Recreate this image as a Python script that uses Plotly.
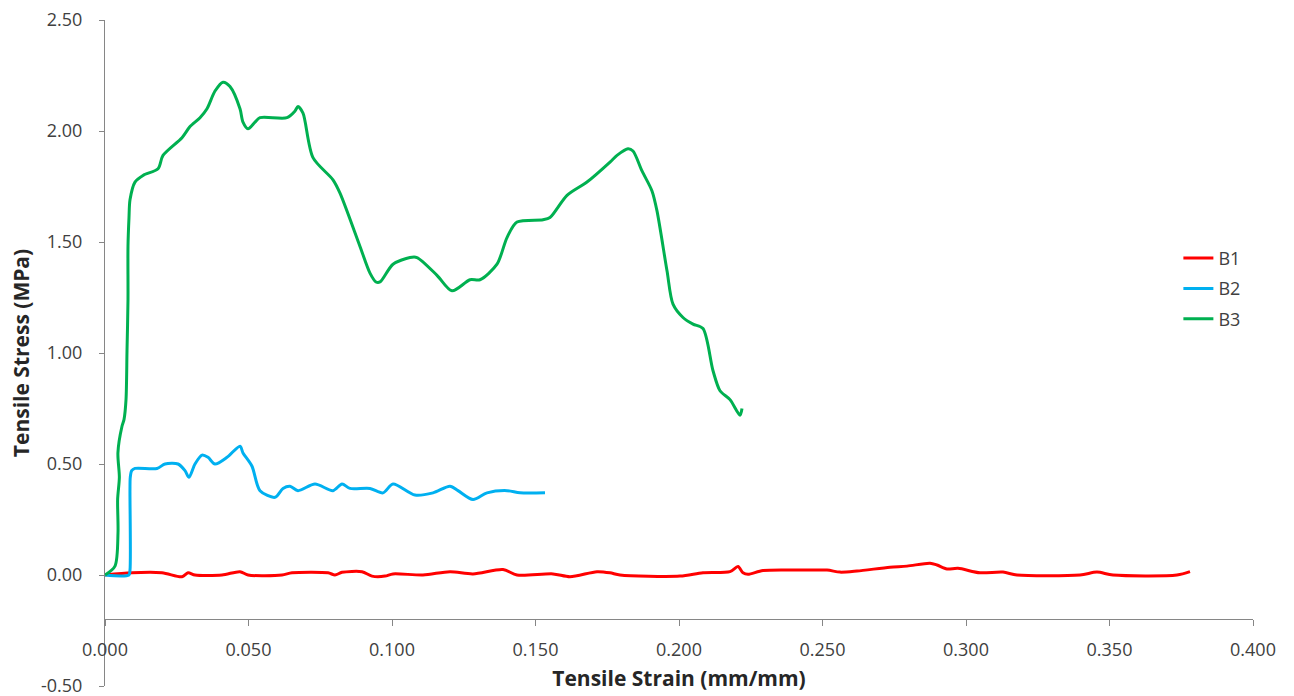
import plotly.graph_objects as go

# ---------------- data ----------------
b1_x = [0.0, 0.00941, 0.01986, 0.02683, 0.02892, 0.03136, 0.04077, 0.04704, 0.04983, 0.06167,
        0.06516, 0.07770, 0.08014, 0.08258, 0.08955, 0.09303, 0.09756, 0.10035, 0.11080, 0.12021,
        0.12822, 0.13868, 0.14355, 0.15610, 0.16202, 0.17143, 0.17596, 0.17944, 0.20035, 0.20836,
        0.21777, 0.22056, 0.22230, 0.22404, 0.22927, 0.24216, 0.25157, 0.25610, 0.26202, 0.27352,
        0.27944, 0.28746, 0.28990, 0.29338, 0.29721, 0.30488, 0.31289, 0.31777, 0.33972, 0.34564,
        0.35122, 0.37352, 0.37805]
b1_y = [0.0, 0.010, 0.010, -0.008, 0.010, 0.000, 0.000, 0.015, 0.000, 0.000,
        0.010, 0.010, 0.000, 0.012, 0.015, -0.005, -0.005, 0.005, 0.000, 0.015,
        0.005, 0.025, 0.000, 0.005, -0.008, 0.015, 0.010, 0.000, -0.005, 0.010,
        0.015, 0.038, 0.010, 0.003, 0.020, 0.022, 0.022, 0.013, 0.018, 0.035,
        0.040, 0.053, 0.045, 0.027, 0.030, 0.010, 0.013, 0.000, 0.000, 0.013,
        0.000, 0.000, 0.015]

b2_x = [0.0, 0.0083, 0.0087, 0.0087, 0.0088, 0.0093, 0.01045, 0.01812, 0.02091, 0.02544,
        0.02787, 0.02927, 0.03136, 0.03380, 0.03589, 0.03833, 0.04251, 0.04704, 0.04808, 0.05122,
        0.05401, 0.05923, 0.06202, 0.06446, 0.06725, 0.07317, 0.07944, 0.08258, 0.08537, 0.09233,
        0.09686, 0.10035, 0.10801, 0.11429, 0.12021, 0.12300, 0.12822, 0.13310, 0.14007, 0.14460,
        0.15331]
b2_y = [0.0, 0.0, 0.02, 0.38, 0.44, 0.47, 0.48, 0.48, 0.50, 0.50,
        0.47, 0.44, 0.50, 0.54, 0.53, 0.50, 0.53, 0.58, 0.55, 0.49,
        0.38, 0.35, 0.39, 0.40, 0.38, 0.41, 0.38, 0.41, 0.39, 0.39,
        0.37, 0.41, 0.36, 0.37, 0.40, 0.38, 0.34, 0.37, 0.38, 0.37,
        0.37]

b3_x = [0.0, 0.00348, 0.00453, 0.00440, 0.00500, 0.00450, 0.00592, 0.00662, 0.00732, 0.00767,
        0.00801, 0.00801, 0.00836, 0.00871, 0.01045, 0.01324, 0.01847, 0.02021, 0.02683, 0.02962,
        0.03310, 0.03554, 0.03833, 0.04111, 0.04355, 0.04704, 0.04808, 0.04983, 0.05226, 0.05401,
        0.06341, 0.06620, 0.06725, 0.06899, 0.07247, 0.07944, 0.08188, 0.08885, 0.09233, 0.09443,
        0.09582, 0.10035, 0.10627, 0.10871, 0.11568, 0.12091, 0.12718, 0.13066, 0.13659, 0.14007,
        0.14355, 0.15261, 0.15505, 0.16098, 0.16794, 0.17596, 0.17840, 0.18223, 0.18397, 0.18711,
        0.19059, 0.19233, 0.19582, 0.19791, 0.20139, 0.20488, 0.20836, 0.21185, 0.21429, 0.21777,
        0.22125, 0.22195]
b3_y = [0.0, 0.04, 0.19, 0.34, 0.44, 0.55, 0.67, 0.70, 0.79, 1.01,
        1.24, 1.48, 1.61, 1.69, 1.77, 1.80, 1.83, 1.89, 1.97, 2.02,
        2.06, 2.10, 2.18, 2.22, 2.20, 2.10, 2.04, 2.01, 2.04, 2.06,
        2.06, 2.09, 2.11, 2.08, 1.88, 1.78, 1.72, 1.48, 1.36, 1.32,
        1.32, 1.40, 1.43, 1.43, 1.35, 1.28, 1.33, 1.33, 1.40, 1.52,
        1.59, 1.60, 1.61, 1.71, 1.77, 1.86, 1.89, 1.92, 1.91, 1.82,
        1.73, 1.64, 1.37, 1.22, 1.16, 1.13, 1.11, 0.92, 0.83, 0.79,
        0.72, 0.75]

series = [("B1", b1_x, b1_y, "#FF0000"),
          ("B2", b2_x, b2_y, "#00B0F0"),
          ("B3", b3_x, b3_y, "#00B050")]

y_tickvals = [-0.5, 0.0, 0.5, 1.0, 1.5, 2.0, 2.5]
y_ticktext = ["-0.50", "0.00", "0.50", "1.00", "1.50", "2.00", "2.50"]

x_range = [0.0, 0.4]
y_range = [-0.5, 2.5]
x_cross = -0.2  # horizontal axis crosses the vertical axis here

FONT = "'Open Sans', 'DejaVu Sans', sans-serif"
AXIS_COLOR = "#868686"
TEXT_COLOR = "#404040"

fig = go.Figure()
for i, (name, xs, ys, col) in enumerate(series):
    fig.add_trace(go.Scatter(
        x=xs, y=ys, name=name, mode="lines",
        line=dict(color=col, width=3, shape="spline", smoothing=0.8),
        legendgroup=f"g{i}",
    ))

fig.update_layout(
    width=1294, height=696,
    margin=dict(l=105, r=41, t=20, b=10),
    paper_bgcolor="white", plot_bgcolor="white",
    template="none",
    font=dict(family=FONT, size=18, color=TEXT_COLOR),
    showlegend=True,
    legend=dict(
        x=0.935, y=0.670, xanchor="left", yanchor="top",
        bgcolor="rgba(0,0,0,0)", tracegroupgap=4,
        font=dict(size=18, color=TEXT_COLOR),
    ),
    xaxis=dict(
        range=x_range, dtick=0.05, tick0=0, tickformat=".3f",
        anchor="free",
        position=(x_cross - y_range[0]) / (y_range[1] - y_range[0]),
        showline=True, linecolor=AXIS_COLOR, linewidth=1,
        ticks="outside", ticklen=6, tickcolor=AXIS_COLOR,
        showgrid=False, zeroline=False,
        ticklabelstandoff=8,
        tickfont=dict(size=18, color=TEXT_COLOR),
        title=dict(text="<b>Tensile Strain (mm/mm)</b>", standoff=11,
                   font=dict(size=21, color="#262626")),
        automargin=False,
    ),
    yaxis=dict(
        range=y_range, tickmode="array", tickvals=y_tickvals, ticktext=y_ticktext,
        showline=True, linecolor=AXIS_COLOR, linewidth=1,
        ticks="outside", ticklen=5, tickcolor=AXIS_COLOR,
        showgrid=False, zeroline=False,
        ticklabelstandoff=13, ticklabeloverflow="allow",
        tickfont=dict(size=18, color=TEXT_COLOR),
        title=dict(text="<b>Tensile Stress (MPa)</b>", standoff=5,
                   font=dict(size=21, color="#262626")),
        automargin=False,
    ),
)

fig.write_html("out.html")
